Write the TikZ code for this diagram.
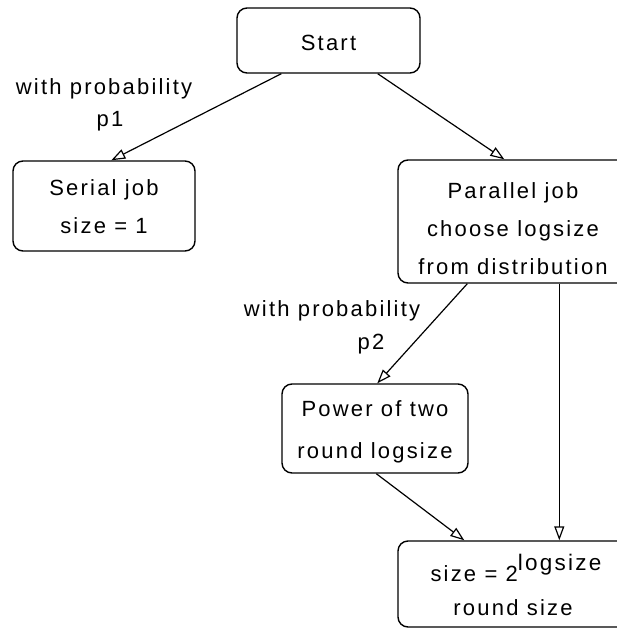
\documentclass[tikz,border=0pt]{standalone}
\usepackage{fontspec}
\setmainfont{Liberation Sans}[LetterSpace=10]
\usetikzlibrary{arrows.meta}
\begin{document}
\begin{tikzpicture}[x=1pt,y=-1pt,
  box/.style={draw=black, line width=1.4pt, rounded corners=10pt, align=center, inner sep=0pt, font=\fontsize{22}{38}\selectfont},
  lbl/.style={inner sep=0pt, font=\fontsize{22}{38}\selectfont},
  conn/.style={draw=black, line width=1.2pt, -{Triangle[open, length=14pt, width=10pt, line width=1.2pt]}}]
\useasboundingbox (0,0) rectangle (617,628);
\clip (0,0) rectangle (617,628);
\node[box, minimum width=183pt, minimum height=65pt] (start) at (328.5,40.5) {\rule{0pt}{20pt}Start};
\node[box, minimum width=182pt, minimum height=90pt] (serial) at (104,206) {\rule{0pt}{18pt}Serial job\\size = 1};
\node[box, minimum width=230pt, minimum height=123pt] (par) at (513,221.5) {\rule{0pt}{30pt}Parallel job\\choose logsize\\from distribution};
\node[box, minimum width=186pt, minimum height=89pt, font=\fontsize{22}{42}\selectfont] (pow) at (375,428.5) {\rule{0pt}{22pt}Power of two\\round logsize};
\node[box, minimum width=230pt, minimum height=86pt] (size) at (513,584) {\rule{0pt}{30pt}\hspace*{6pt}size = 2\raisebox{11pt}{\fontsize{22.5}{22.5}\selectfont logsize}\\[-4pt]round size};
\node[lbl] (p1a) at (104,89) {with probability};
\node[lbl] (p1b) at (110,121) {p1};
\node[lbl] (p2a) at (332,311) {with probability};
\node[lbl] (p2b) at (371,344) {p2};
\draw[conn] ([xshift=45pt]start.south west) -- ([xshift=99pt]serial.north west);
\draw[conn] ([xshift=-43pt]start.south east) -- ([xshift=107pt]par.north west);
\draw[conn] ([xshift=70pt]par.south west) -- ([xshift=96pt]pow.north west);
\draw[conn] ([xshift=95pt]pow.south west) -- ([xshift=67pt]size.north west);
\draw[conn] ([xshift=162pt]par.south west) -- ([xshift=162pt]size.north west);
\end{tikzpicture}
\end{document}
